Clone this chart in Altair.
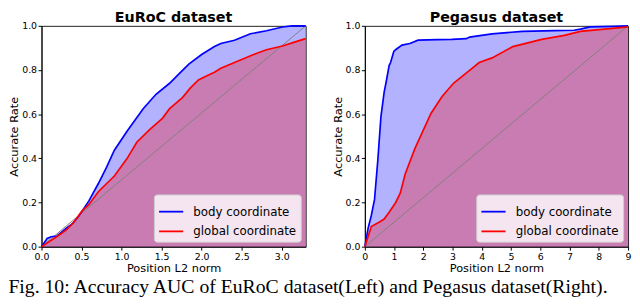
import altair as alt
import pandas as pd

# ---- data ----
euroc_body_x = [0, 0.07, 0.12, 0.19, 0.31, 0.39, 0.47, 0.59, 0.71, 0.81, 0.91, 1.07, 1.27, 1.43,
                1.60, 1.72, 1.84, 2.0, 2.16, 2.24, 2.41, 2.61, 2.81, 3.01, 3.13, 3.3]
euroc_body_y = [0, 0.037, 0.045, 0.048, 0.084, 0.105, 0.141, 0.206, 0.286, 0.358, 0.437, 0.524, 0.625, 0.69,
                0.74, 0.784, 0.827, 0.87, 0.906, 0.92, 0.935, 0.964, 0.978, 0.995, 1.0, 1.0]
euroc_global_x = [0, 0.19, 0.31, 0.39, 0.51, 0.59, 0.71, 0.81, 0.91, 1.07, 1.19, 1.35, 1.51, 1.60,
                  1.76, 1.86, 1.96, 2.04, 2.16, 2.24, 2.41, 2.65, 2.81, 3.01, 3.15, 3.3]
euroc_global_y = [0, 0.045, 0.076, 0.105, 0.163, 0.19, 0.249, 0.285, 0.32, 0.40, 0.473, 0.53, 0.581, 0.625,
                  0.675, 0.719, 0.755, 0.769, 0.79, 0.808, 0.834, 0.87, 0.892, 0.909, 0.925, 0.942]

pegasus_body_x = [0, 0.11, 0.22, 0.33, 0.44, 0.55, 0.66, 0.72, 0.83, 0.88, 0.99, 1.05, 1.27, 1.54, 1.82,
                  2.48, 2.97, 3.47, 3.58, 4.35, 5.39, 6.5, 7.15, 7.37, 7.7, 8.5, 9]
pegasus_body_y = [0, 0.083, 0.141, 0.213, 0.387, 0.589, 0.70, 0.74, 0.82, 0.834, 0.884, 0.892, 0.913, 0.92, 0.935,
                  0.938, 0.939, 0.942, 0.949, 0.964, 0.975, 0.978, 0.98, 0.985, 0.995, 0.998, 1.0]
pegasus_global_x = [0, 0.22, 0.50, 0.66, 0.83, 1.05, 1.21, 1.38, 1.71, 2.26, 2.64, 3.03, 3.58, 3.91,
                    4.35, 5.06, 6.05, 6.82, 7.37, 8.2, 9]
pegasus_global_y = [0, 0.091, 0.112, 0.125, 0.156, 0.199, 0.242, 0.329, 0.444, 0.603, 0.68, 0.74, 0.798, 0.834,
                    0.855, 0.906, 0.939, 0.957, 0.975, 0.985, 0.995]

series_names = ["body coordinate", "global coordinate"]
series_colors = ["#0000ff", "#ff0000"]

euroc_x_ticks = [0, 0.5, 1.0, 1.5, 2.0, 2.5, 3.0]
pegasus_x_ticks = [0, 1, 2, 3, 4, 5, 6, 7, 8, 9]
y_ticks = [0, 0.2, 0.4, 0.6, 0.8, 1.0]

caption = "Fig. 10: Accuracy AUC of EuRoC dataset(Left) and Pegasus dataset(Right)."

FONT = "DejaVu Sans"


def make_df(bx, by, gx, gy):
    rows = [{"x": x, "y": y, "series": series_names[0]} for x, y in zip(bx, by)]
    rows += [{"x": x, "y": y, "series": series_names[1]} for x, y in zip(gx, gy)]
    return pd.DataFrame(rows)


def panel(df, xmax, title, xticks, xfmt, width):
    xenc = alt.X("x:Q", scale=alt.Scale(domain=[0, xmax], nice=False, zero=True),
                 axis=alt.Axis(values=xticks, format=xfmt, title="Position L2 norm",
                               labelFlush=False, labelOverlap=False))
    yenc = alt.Y("y:Q", stack=None, scale=alt.Scale(domain=[0, 1], nice=False),
                 axis=alt.Axis(values=y_ticks, format=".1f", title="Accurate Rate",
                               labelFlush=False, labelOverlap=False))
    cscale = alt.Scale(domain=series_names, range=series_colors)

    diag_df = pd.DataFrame({"x": [0, xmax], "y": [0, 1]})
    diag = alt.Chart(diag_df).mark_line(color="#808080", strokeWidth=1).encode(x=xenc, y=yenc)

    area_body = alt.Chart(df).transform_filter(
        alt.datum.series == series_names[0]
    ).mark_area(opacity=0.3, color=series_colors[0]).encode(x=xenc, y=yenc)
    area_global = alt.Chart(df).transform_filter(
        alt.datum.series == series_names[1]
    ).mark_area(opacity=0.3, color=series_colors[1]).encode(x=xenc, y=yenc)

    line = alt.Chart(df).mark_line(strokeWidth=1.7).encode(
        x=xenc, y=yenc,
        color=alt.Color("series:N", scale=cscale,
                        legend=alt.Legend(title=None, orient="bottom-right", offset=5,
                                          symbolType="stroke", symbolSize=600,
                                          symbolStrokeWidth=1.8,
                                          labelFontSize=12, labelFont=FONT,
                                          labelColor="black",
                                          fillColor="rgba(255,255,255,0.8)",
                                          strokeColor="#cccccc", cornerRadius=3,
                                          padding=4, rowPadding=-4, labelOffset=9)))

    return alt.layer(area_body, area_global, diag, line).properties(
        width=width, height=224,
        title=alt.TitleParams(title, font=FONT, fontSize=14.5, fontWeight="bold",
                              color="black", offset=-5))


left = panel(make_df(euroc_body_x, euroc_body_y, euroc_global_x, euroc_global_y),
             3.3, "EuRoC dataset", euroc_x_ticks, ".1f", 268)
right = panel(make_df(pegasus_body_x, pegasus_body_y, pegasus_global_x, pegasus_global_y),
              9, "Pegasus dataset", pegasus_x_ticks, "d", 267)

chart = alt.hconcat(left, right, spacing=22).resolve_scale(
    color="independent"
).resolve_legend(
    color="independent"
).properties(
    padding=0,
    title=alt.TitleParams(caption, orient="bottom", anchor="start", font="Liberation Serif",
                          fontSize=20, fontWeight="normal", color="black", offset=3, frame="bounds"),
).configure_view(
    stroke="#222222", strokeWidth=1
).configure_axis(
    labelFont=FONT, labelFontSize=9.5, labelColor="black", labelPadding=1.5,
    tickColor="black", tickSize=3.5, domainColor="black", grid=False,
    titleFont=FONT, titleFontSize=11.5, titleFontWeight="normal", titleColor="black",
    titlePadding=2,
)

chart.save("out.html", embed_options={"renderer": "svg", "actions": False})
